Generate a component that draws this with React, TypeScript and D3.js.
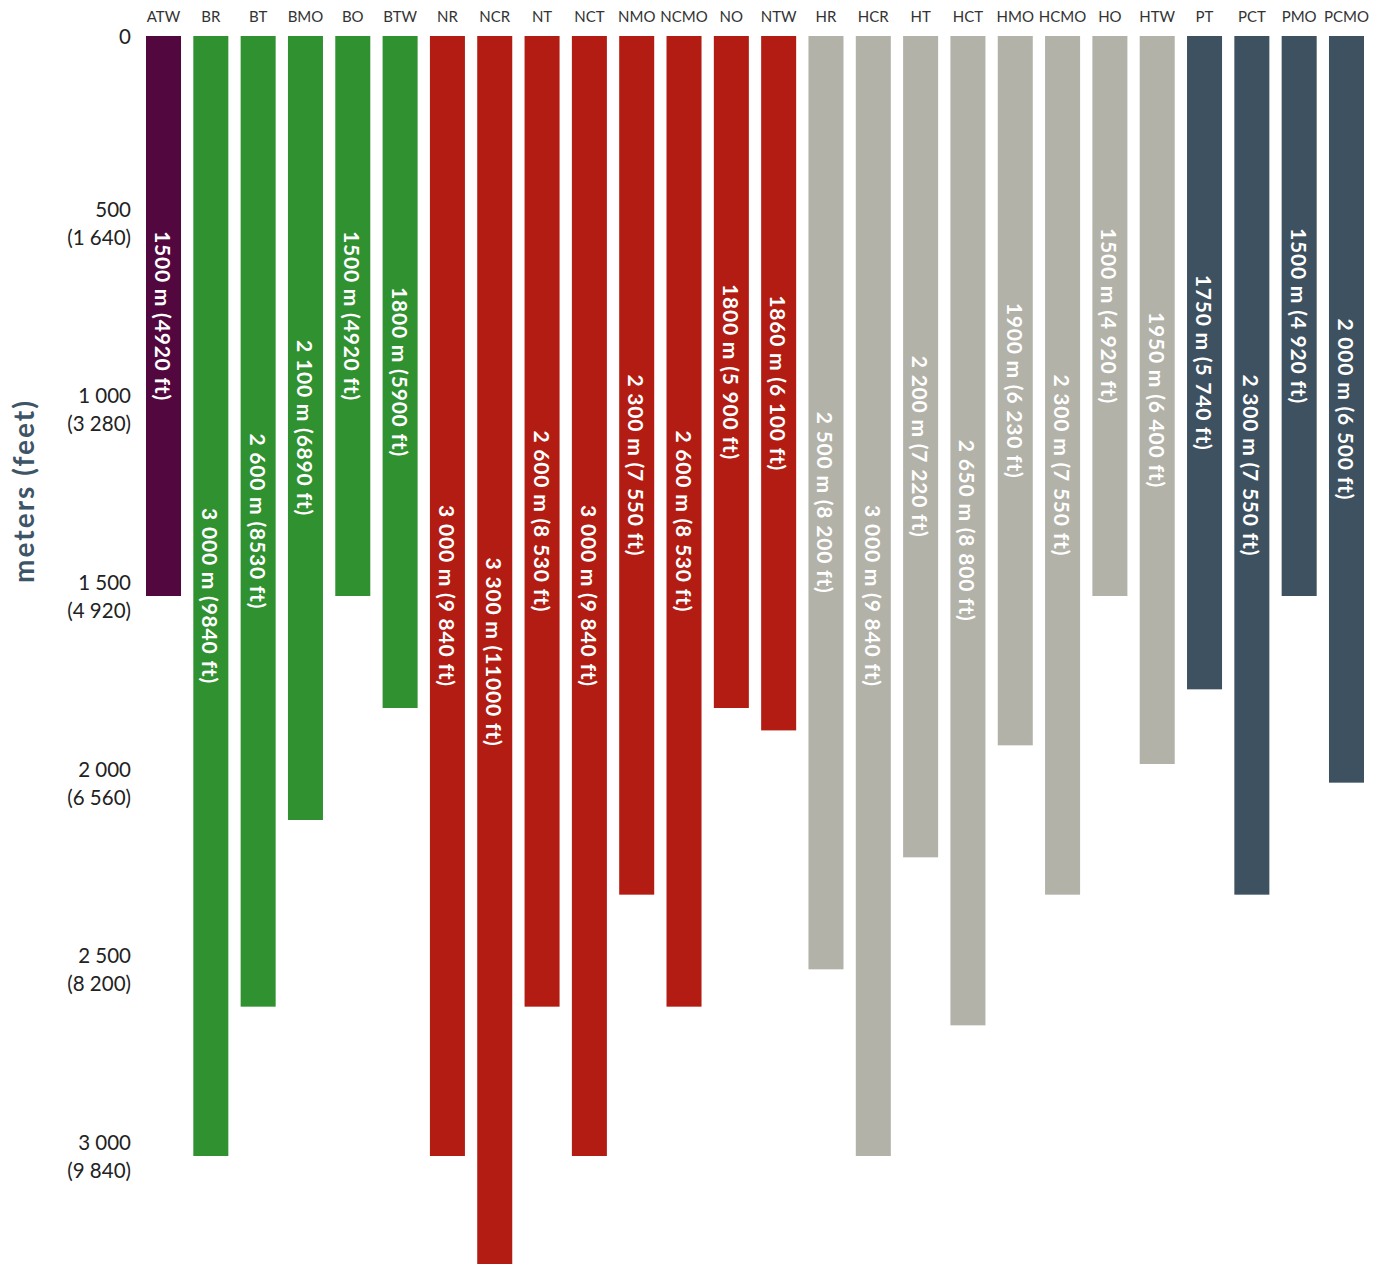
import React from "react";
import * as d3 from "d3";

const categories = ["ATW","BR","BT","BMO","BO","BTW","NR","NCR","NT","NCT","NMO","NCMO","NO","NTW","HR","HCR","HT","HCT","HMO","HCMO","HO","HTW","PT","PCT","PMO","PCMO"];
const depths = [1500,3000,2600,2100,1500,1800,3000,3300,2600,3000,2300,2600,1800,1860,2500,3000,2200,2650,1900,2300,1500,1950,1750,2300,1500,2000];
const barLabels = [
  "1500 m (4920 ft)","3 000 m (9840 ft)","2 600 m (8530 ft)","2 100 m (6890 ft)","1500 m (4920 ft)","1800 m (5900 ft)",
  "3 000 m (9 840 ft)","3 300 m (11000 ft)","2 600 m (8 530 ft)","3 000 m (9 840 ft)","2 300 m (7 550 ft)","2 600 m (8 530 ft)","1800 m (5 900 ft)","1860 m (6 100 ft)",
  "2 500 m (8 200 ft)","3 000 m (9 840 ft)","2 200 m (7 220 ft)","2 650 m (8 800 ft)","1900 m (6 230 ft)","2 300 m (7 550 ft)","1500 m (4 920 ft)","1950 m (6 400 ft)",
  "1750 m (5 740 ft)","2 300 m (7 550 ft)","1500 m (4 920 ft)","2 000 m (6 500 ft)"
];
const groups = ["A","B","B","B","B","B","N","N","N","N","N","N","N","N","H","H","H","H","H","H","H","H","P","P","P","P"];
const groupKeys = ["A","B","N","H","P"];
const groupColors = ["#52073f","#309130","#b21c12","#b2b2a9","#3d5160"];
const tickValues = [0,500,1000,1500,2000,2500,3000];
const tickMeters = ["0","500","1 000","1 500","2 000","2 500","3 000"];
const tickFeet = ["","(1 640)","(3 280)","(4 920)","(6 560)","(8 200)","(9 840)"];

const W = 1368;
const H = 1300;

export default function App() {
  const x = d3.scaleBand<string>().domain(categories).range([138, 1356]).paddingInner(0.26).paddingOuter(0);
  const y = d3.scaleLinear().domain([0, 3000]).range([28, 1148]);
  const color = d3.scaleOrdinal<string, string>().domain(groupKeys).range(groupColors);
  const font = "Lato, 'Open Sans', sans-serif";
  return (
    <svg width={W} height={H} style={{ display: "block", overflow: "visible" }} fontFamily={font}>
      {categories.map((c, i) => {
        const bx = x(c)!;
        const bw = x.bandwidth();
        const y0 = y(0);
        const y1 = y(depths[i]);
        const cx = bx + bw / 2;
        const cy = (y0 + y1) / 2;
        return (
          <g key={c}>
            <rect x={bx} y={y0} width={bw} height={y1 - y0} fill={color(groups[i])} />
            <text x={cx} y={8} textAnchor="middle" dominantBaseline="central" fontSize={15} fill="#333">{c}</text>
            <text transform={`translate(${cx},${cy}) rotate(90)`} textAnchor="middle" dominantBaseline="central" fontSize={21} fontWeight={700} letterSpacing={0.8} fill="#fff">{barLabels[i]}</text>
          </g>
        );
      })}
      {tickValues.map((v, i) => (
        <g key={v}>
          {tickFeet[i] === "" ? (
            <text x={123} y={y(v)} textAnchor="end" dominantBaseline="central" fontSize={20.5} fill="#222">{tickMeters[i]}</text>
          ) : (
            <>
              <text x={123} y={y(v) - 14} textAnchor="end" dominantBaseline="central" fontSize={20.5} fill="#222">{tickMeters[i]}</text>
              <text x={123} y={y(v) + 14} textAnchor="end" dominantBaseline="central" fontSize={20.5} fill="#222">{tickFeet[i]}</text>
            </>
          )}
        </g>
      ))}
      <text transform={`translate(15,483) rotate(-90)`} textAnchor="middle" dominantBaseline="central" fontSize={28} fontWeight={700} letterSpacing={2} fill="#3d5566">meters (feet)</text>
    </svg>
  );
}
